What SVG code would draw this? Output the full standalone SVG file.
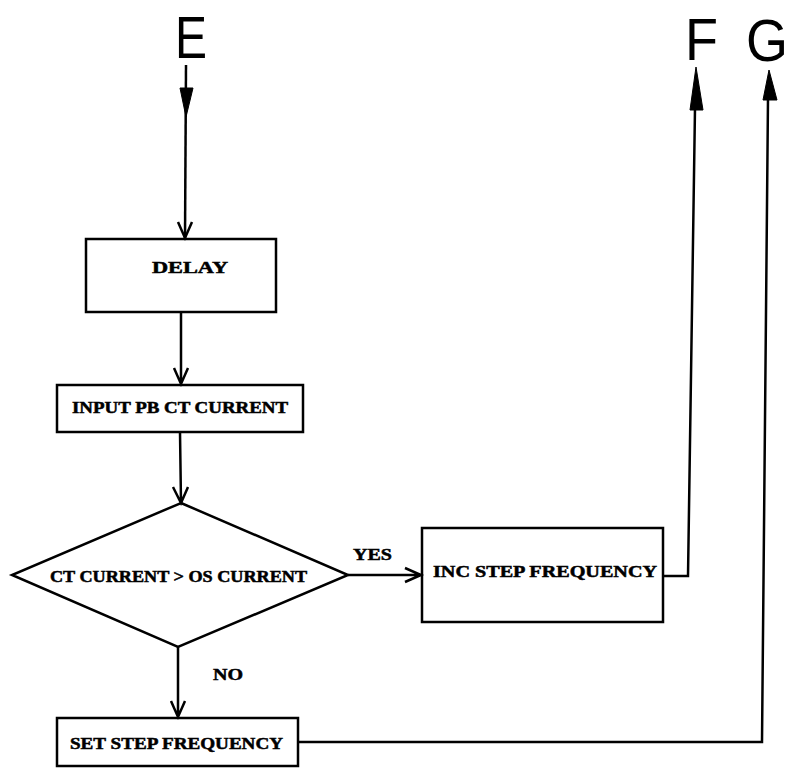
<svg xmlns="http://www.w3.org/2000/svg" width="797" height="768" viewBox="0 0 797 768">
<style>
.box{fill:none;stroke:#000;stroke-width:2.5}
.ln{fill:none;stroke:#000;stroke-width:2.5}
.hd{fill:#000;stroke:#000;stroke-width:1}
.t{font-family:"Liberation Serif",serif;font-weight:bold;font-size:16px;fill:#000;stroke:#000;stroke-width:0.5}
.big{font-family:"Liberation Sans",sans-serif;font-size:60px;fill:#000}
</style>
<rect width="797" height="768" fill="#fff"/>
<g id="label-E"><text class="big" x="175" y="58" textLength="32" lengthAdjust="spacingAndGlyphs">E</text></g>
<g id="label-F"><text class="big" x="685" y="60" textLength="33" lengthAdjust="spacingAndGlyphs">F</text></g>
<g id="label-G"><text class="big" x="746" y="61" textLength="42" lengthAdjust="spacingAndGlyphs">G</text></g>
<g id="delay"><rect class="box" x="86" y="239" width="190" height="73"/><text class="t" x="152" y="273" textLength="76" lengthAdjust="spacingAndGlyphs">DELAY</text></g>
<g id="input"><rect class="box" x="57" y="385" width="246" height="47"/><text class="t" x="72" y="413" textLength="216" lengthAdjust="spacingAndGlyphs">INPUT PB CT CURRENT</text></g>
<g id="decision"><polygon class="box" points="181,503 348,575 178,647 12,575"/><text class="t" x="50" y="582" textLength="257" lengthAdjust="spacingAndGlyphs">CT CURRENT &gt; OS CURRENT</text></g>
<g id="inc"><rect class="box" x="422" y="528" width="241" height="94"/><text class="t" x="433" y="577" textLength="224" lengthAdjust="spacingAndGlyphs">INC STEP FREQUENCY</text></g>
<g id="set"><rect class="box" x="57" y="718" width="241" height="48"/><text class="t" x="70" y="749" textLength="213" lengthAdjust="spacingAndGlyphs">SET STEP FREQUENCY</text></g>
<g id="connectors">
<path class="ln" d="M186,65 L185,238"/>
<polygon class="hd" points="186,117 180,88 193,88"/>
<path class="ln" d="M178,222 L185,238 L192,222"/>
<path class="ln" d="M181,312 L181,384 M174,368 L181,384 L188,368"/>
<path class="ln" d="M180,432 L181,503 M173,487 L181,503 L188,487"/>
<path class="ln" d="M348,575 L421,575 M405,568 L421,575 L405,582"/>
<text class="t" x="353" y="560" textLength="39" lengthAdjust="spacingAndGlyphs">YES</text>
<path class="ln" d="M178,647 L178,717 M171,701 L178,717 L185,701"/>
<text class="t" x="213" y="680" textLength="30" lengthAdjust="spacingAndGlyphs">NO</text>
<path class="ln" d="M663,576 L688,576 L695,108"/>
<polygon class="hd" points="696,67 690,110 703,110"/>
<path class="ln" d="M298,742 L762,742 L768,98"/>
<polygon class="hd" points="769,70 763,100 777,100"/>
</g>
</svg>
